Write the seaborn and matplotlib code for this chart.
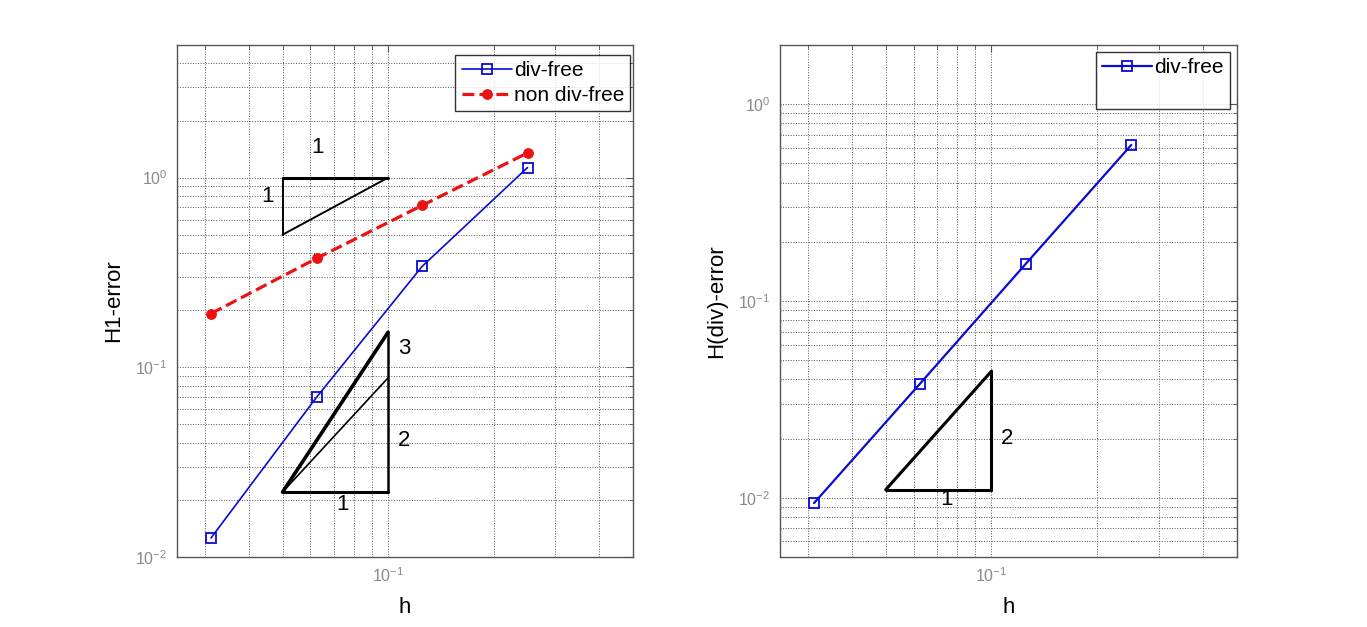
import numpy as np
import pandas as pd
import seaborn as sns
import matplotlib
matplotlib.use("Agg")
from matplotlib import pyplot as plt
from matplotlib.lines import Line2D
from matplotlib.ticker import LogLocator, NullFormatter

# data
h = [1/32, 1/16, 1/8, 1/4]
h1_divfree = [0.0126, 0.0695, 0.34, 1.13]
h1_nondivfree = [0.192, 0.375, 0.713, 1.35]
hdiv_divfree = [0.0094, 0.0379, 0.154, 0.621]

# slope triangles (annotation)
tri_x = [0.05, 0.1]
tri1_y = [0.5, 1.0]
tri23_y = [0.022, 0.088, 0.153]
tri_right_y = [0.011, 0.044]

sns.set_style("white")
plt.rcParams['font.family'] = ['Liberation Sans', 'DejaVu Sans']
plt.rcParams['mathtext.fontset'] = 'custom'
plt.rcParams['mathtext.rm'] = 'Liberation Sans'
plt.rcParams['mathtext.it'] = 'Liberation Sans'
plt.rcParams['axes.unicode_minus'] = False
plt.rcParams['text.color'] = 'black'
plt.rcParams['axes.labelcolor'] = 'black'

BLUE = '#0a0ad2'
RED = '#ee1111'
TICKGREY = '#8a8a8a'

fig = plt.figure(figsize=(13.67, 6.27), dpi=100)
ax1 = fig.add_axes([0.1295, 0.1116, 0.3336, 0.8166])
ax2 = fig.add_axes([0.5706, 0.1116, 0.3343, 0.8166])


def style_axes(ax, ylim):
    ax.set_xscale('log')
    ax.set_yscale('log')
    ax.set_xlim(0.025, 0.5)
    ax.set_ylim(*ylim)
    ax.xaxis.set_minor_locator(LogLocator(base=10, subs=np.arange(2, 10)))
    ax.yaxis.set_minor_locator(LogLocator(base=10, subs=np.arange(2, 10)))
    ax.xaxis.set_minor_formatter(NullFormatter())
    ax.yaxis.set_minor_formatter(NullFormatter())
    ax.grid(True, which='both', ls=':', color='#555555', lw=0.7)
    ax.tick_params(which='both', direction='in', top=True, right=True,
                   colors='#555555', labelcolor=TICKGREY, labelsize=11.5)
    ax.tick_params(which='major', length=5, pad=7)
    ax.tick_params(which='minor', length=3)
    for s in ax.spines.values():
        s.set_color('#555555')
        s.set_linewidth(1.0)
    ax.set_xlabel('h', fontsize=16, labelpad=8)


# left panel
sns.lineplot(x=h, y=h1_divfree, ax=ax1, color=BLUE, lw=1.2, marker='s',
             markersize=7, markerfacecolor='none', markeredgecolor=BLUE,
             markeredgewidth=1.3, label='div-free')
sns.lineplot(x=h, y=h1_nondivfree, ax=ax1, color=RED, lw=2.3, ls='--',
             dashes=(3, 2), marker='o', markersize=7, markerfacecolor=RED,
             markeredgecolor=RED, label='non div-free')
style_axes(ax1, (0.01, 5))

# slope 1 triangle
ax1.plot([tri_x[0], tri_x[1]], [tri1_y[1], tri1_y[1]], color='k', lw=2.2)
ax1.plot([tri_x[0], tri_x[0]], [tri1_y[1], tri1_y[0]], color='k', lw=1.4)
ax1.plot([tri_x[0], tri_x[1]], [tri1_y[0], tri1_y[1]], color='k', lw=1.4)
ax1.text(0.063, 1.45, '1', fontsize=16, ha='center', va='center')
ax1.text(0.0453, 0.80, '1', fontsize=16, ha='center', va='center')

# slope 2 / 3 triangle
ax1.plot([tri_x[0], tri_x[1]], [tri23_y[0], tri23_y[0]], color='k', lw=2.2)
ax1.plot([tri_x[1], tri_x[1]], [tri23_y[0], tri23_y[2]], color='k', lw=1.8)
ax1.plot([tri_x[0], tri_x[1]], [tri23_y[0], tri23_y[2]], color='k', lw=2.6)
ax1.plot([tri_x[0], tri_x[1]], [tri23_y[0], tri23_y[1]], color='k', lw=1.2)
ax1.text(0.111, 0.126, '3', fontsize=16, ha='center', va='center')
ax1.text(0.111, 0.0413, '2', fontsize=16, ha='center', va='center')
ax1.text(0.074, 0.019, '1', fontsize=16, ha='center', va='center')

ax1.set_ylabel('H1-error', fontsize=16, labelpad=8)
leg1 = ax1.legend(loc='upper right', bbox_to_anchor=(0.994, 0.981),
                  fontsize=15, handlelength=2.4, frameon=True,
                  fancybox=False, edgecolor='black', borderaxespad=0,
                  handletextpad=0.1, labelspacing=0.3, borderpad=0.3)
leg1.get_frame().set_linewidth(1.0)

# right panel
sns.lineplot(x=h, y=hdiv_divfree, ax=ax2, color=BLUE, lw=1.6, marker='s',
             markersize=7, markerfacecolor='none', markeredgecolor=BLUE,
             markeredgewidth=1.3, label='div-free')
style_axes(ax2, (0.005, 2))

ax2.plot([tri_x[0], tri_x[1]], [tri_right_y[0], tri_right_y[0]], color='k', lw=2.2)
ax2.plot([tri_x[1], tri_x[1]], [tri_right_y[0], tri_right_y[1]], color='k', lw=2.2)
ax2.plot([tri_x[0], tri_x[1]], [tri_right_y[0], tri_right_y[1]], color='k', lw=2.2)
ax2.text(0.111, 0.0201, '2', fontsize=16, ha='center', va='center')
ax2.text(0.0745, 0.00975, '1', fontsize=16, ha='center', va='center')

ax2.set_ylabel('H(div)-error', fontsize=16, labelpad=8)
handles, labels = ax2.get_legend_handles_labels()
handles.append(Line2D([], [], color='none'))
labels.append(' ')
leg2 = ax2.legend(handles, labels, loc='upper right',
                  bbox_to_anchor=(0.985, 0.986), fontsize=15,
                  handlelength=2.4, frameon=True, fancybox=False,
                  edgecolor='black', borderaxespad=0, handletextpad=0.1,
                  labelspacing=0.3, borderpad=0.3)
leg2.get_frame().set_linewidth(1.0)

fig.savefig('out.png', dpi=100, facecolor='white')
